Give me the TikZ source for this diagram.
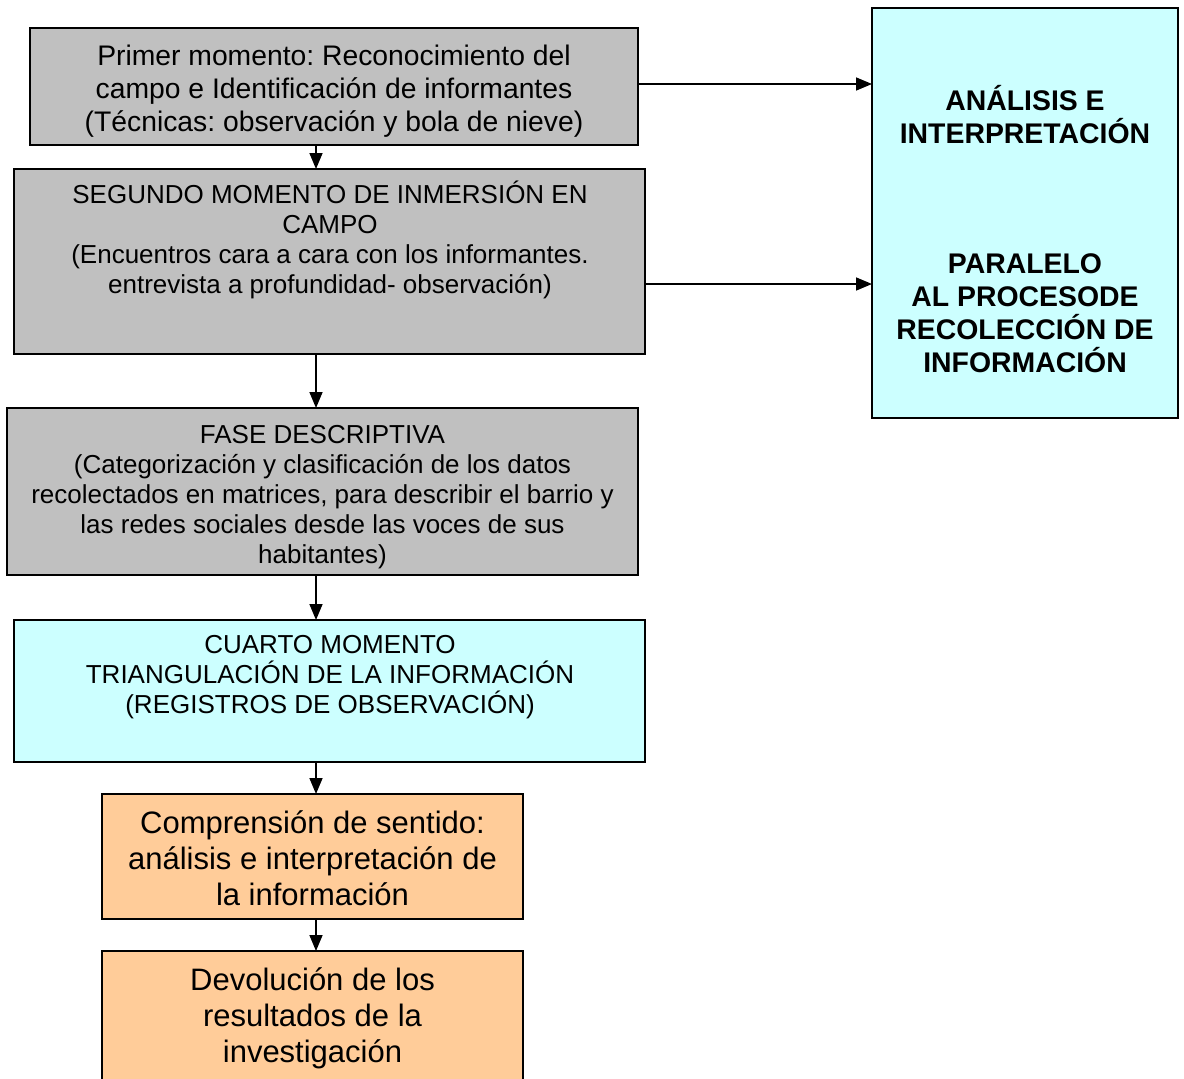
\documentclass[tikz,border=0pt]{standalone}
\usepackage{fontspec}
\setmainfont{Liberation Sans}
\usetikzlibrary{arrows.meta,calc}
\definecolor{boxgray}{HTML}{C0C0C0}
\definecolor{boxcyan}{HTML}{CCFFFF}
\definecolor{boxorange}{HTML}{FFCC99}
\frenchspacing
\begin{document}
\begin{tikzpicture}[x=1pt,y=-1pt,
  box/.style={draw=black,line width=1.6pt,rectangle,inner sep=0pt,outer sep=0pt},
  txt/.style={align=center,inner sep=0pt,anchor=base},
  fa/.style={font=\fontsize{28.3}{33}\selectfont},
  fb/.style={font=\fontsize{26}{30}\selectfont},
  fc/.style={font=\fontsize{31}{36}\selectfont},
  fd/.style={font=\fontsize{28.4}{32.7}\selectfont\bfseries},
  arr/.style={line width=1.6pt,-{Triangle[length=16pt,width=13pt]}}]
\clip (0,0) rectangle (1184,1079);
\fill[white] (0,0) rectangle (1184,1079);
% boxes
\node[box,fill=boxgray,minimum width=608pt,minimum height=117pt] (b1) at (334,86.5) {};
\node[box,fill=boxgray,minimum width=631pt,minimum height=185pt] (b2) at (329.5,261.5) {};
\node[box,fill=boxgray,minimum width=631pt,minimum height=167pt] (b3) at (322.5,491.5) {};
\node[box,fill=boxcyan,minimum width=631pt,minimum height=142pt] (b4) at (329.5,691) {};
\node[box,fill=boxorange,minimum width=421pt,minimum height=125pt] (b5) at (312.5,856.5) {};
\node[box,fill=boxorange,minimum width=421pt,minimum height=149pt] (b6) at (312.5,1025.5) {};
\node[box,fill=boxcyan,minimum width=306pt,minimum height=410pt] (r) at (1025,213) {};
% texts (anchor=base is the baseline of the last line)
\node[txt,fa] (t1) at (334,131) {Primer momento: Reconocimiento del\\campo e Identificación de informantes\\(Técnicas: observación y bola de nieve)};
\node[txt,fb] (t2) at (330,293) {SEGUNDO MOMENTO DE INMERSIÓN EN\\CAMPO\\(Encuentros cara a cara con los informantes.\\entrevista a profundidad- observación)};
\node[txt,fb] (t3) at (322.5,563) {FASE DESCRIPTIVA\\(Categorización y clasificación de los datos\\recolectados en matrices, para describir el barrio y\\las redes sociales desde las voces de sus\\habitantes)};
\node[txt,fb] (t4) at (330,713) {CUARTO MOMENTO\\TRIANGULACIÓN DE LA INFORMACIÓN\\(REGISTROS DE OBSERVACIÓN)};
\node[txt,fc] (t5) at (312.5,905) {Comprensión de sentido:\\análisis e interpretación de\\la información};
\node[txt,fc] (t6) at (312.5,1062) {Devolución de los\\resultados de la\\investigación};
\node[txt,fd] (t7) at (1025,372) {ANÁLISIS E\\INTERPRETACIÓN\\[98pt]PARALELO\\AL PROCESODE\\RECOLECCIÓN DE\\INFORMACIÓN};
% connectors
\coordinate (ax) at (316,0);
\coordinate (h1) at (0,84);
\coordinate (h2) at (0,284);
\draw[arr] (b1.south -| ax) -- (b2.north -| ax);
\draw[arr] (b2.south -| ax) -- (b3.north -| ax);
\draw[arr] (b3.south -| ax) -- (b4.north -| ax);
\draw[arr] (b4.south -| ax) -- (b5.north -| ax);
\draw[arr] (b5.south -| ax) -- (b6.north -| ax);
\draw[arr] (b1.east |- h1) -- (r.west |- h1);
\draw[arr] (b2.east |- h2) -- (r.west |- h2);
\end{tikzpicture}
\end{document}
